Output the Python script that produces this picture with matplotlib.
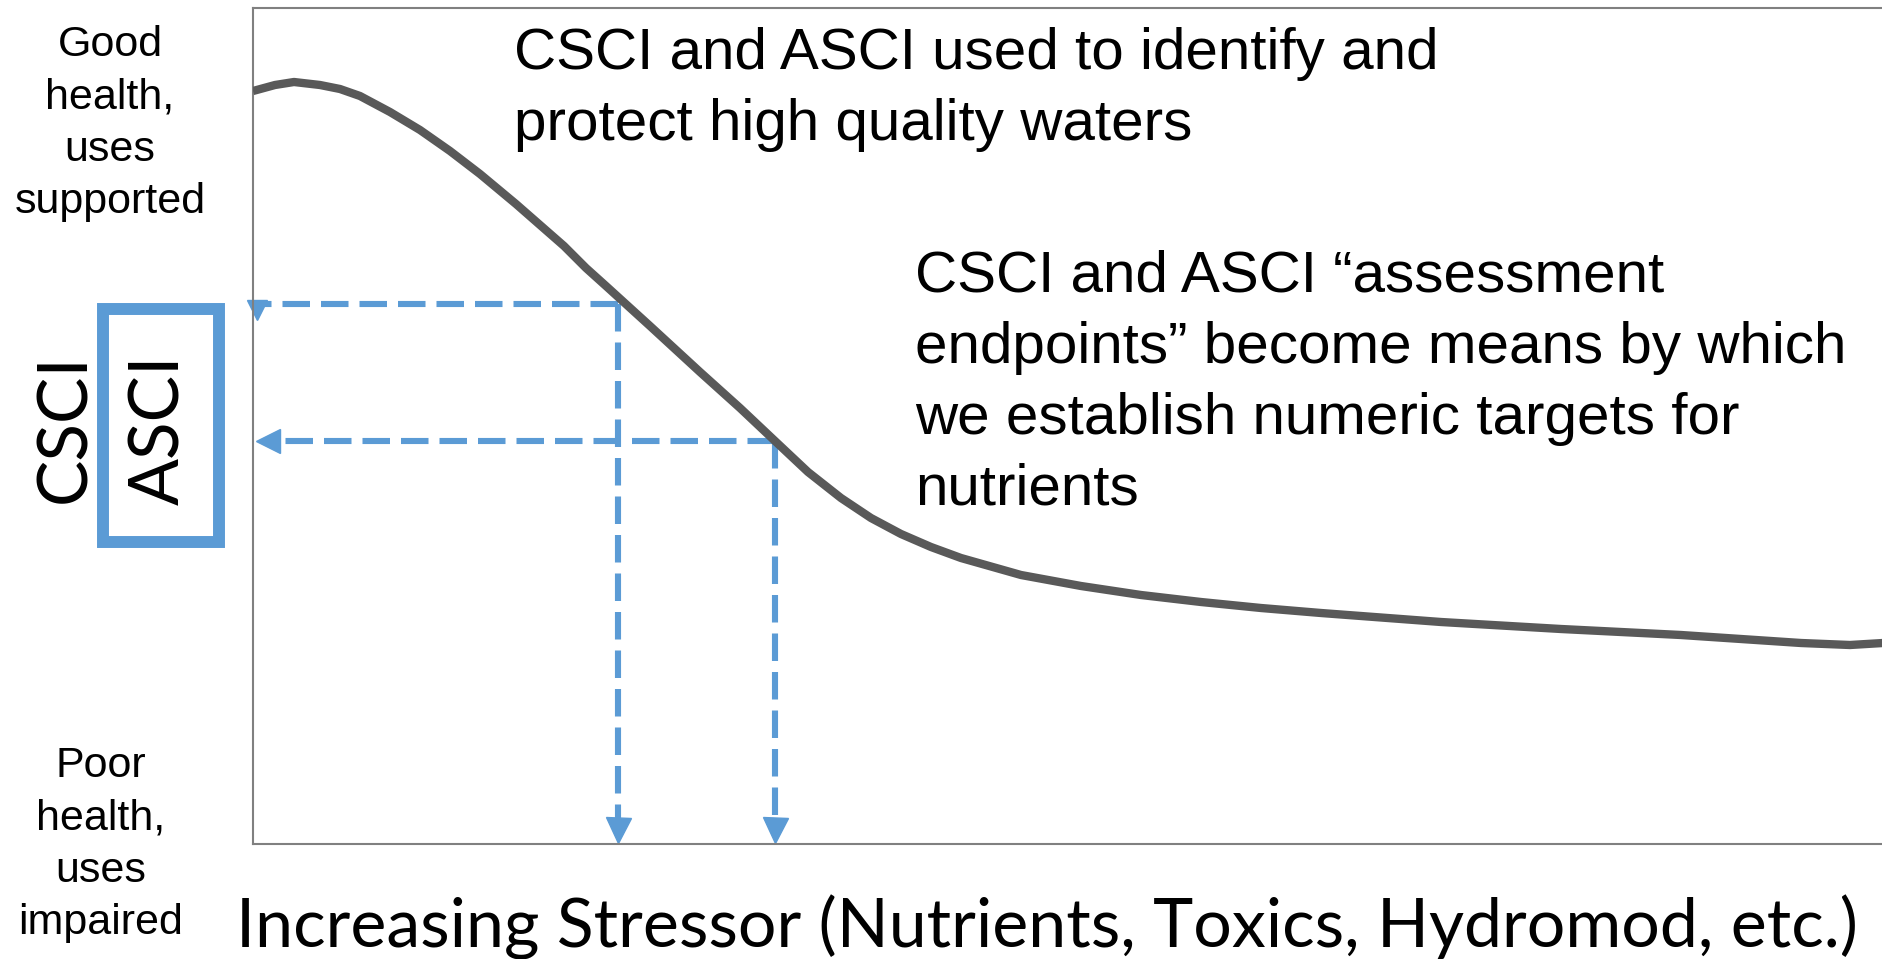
import matplotlib.pyplot as plt

# stressor-response curve (pixel-like units)
stress_x = [253, 275, 294, 320, 340, 360, 390, 420, 450, 480, 516, 540, 564, 586,
            606, 628, 650, 675, 700, 740, 775, 808, 841, 871, 901, 931, 961,
            1021, 1081, 1141, 1201, 1261, 1321, 1441, 1561, 1681, 1801, 1850, 1883]
health_y = [91, 85, 82, 85, 89, 96, 112, 130, 151, 174, 204, 225, 246, 268,
            286, 306, 326, 349, 372, 408, 441, 472, 498, 518, 534, 547, 558,
            575, 586, 595, 602, 608, 613, 622, 629, 635, 643, 645, 643]

# assessment endpoints (stressor level, index level)
endpoint_x = [618, 775]
endpoint_y = [304, 441]

W, H = 1883, 959
x0, x1, y_top, y_bot = 253, 1883, 8, 844

blue = "#5B9BD5"
grey = "#595959"

fig = plt.figure(figsize=(W / 100, H / 100), dpi=100)

# overlay for the text and the index box, figure pixels
ov = fig.add_axes([0, 0, 1, 1])
ov.set_xlim(0, W)
ov.set_ylim(H, 0)
ov.axis("off")

ax = fig.add_axes([x0 / W, (H - y_bot) / H, (x1 - x0) / W, (y_bot - y_top) / H])
ax.set_xlim(x0, x1)
ax.set_ylim(y_bot, y_top)
ax.set_xticks([])
ax.set_yticks([])
ax.patch.set_alpha(0)
for s in ["left", "top", "bottom"]:
    ax.spines[s].set_color("#808080")
    ax.spines[s].set_linewidth(1.5)
ax.spines["right"].set_visible(False)

ax.plot(stress_x, health_y, color=grey, lw=6, solid_capstyle="butt",
        solid_joinstyle="round", zorder=3)

dash = (0, (4.5, 1.8))
lw_d = 4.4
# horizontal lines back to the index axis
ax.plot([endpoint_x[0], x0 + 4], [endpoint_y[0]] * 2, color=blue, lw=lw_d, ls=dash, clip_on=False)
ax.plot([endpoint_x[1], x0 + 20], [endpoint_y[1]] * 2, color=blue, lw=lw_d, ls=dash, clip_on=False)
ax.plot([x0 + 4], [endpoint_y[0] + 6], marker="v", ms=15, color=blue, clip_on=False)
ax.plot([x0 + 15], [endpoint_y[1]], marker="<", ms=17, color=blue, clip_on=False)

# vertical lines down to the stressor axis
for xe, ye in zip(endpoint_x, endpoint_y):
    ax.plot([xe, xe], [ye, y_bot - 26], color=blue, lw=lw_d, ls=dash, clip_on=False)
    ax.plot([xe], [y_bot - 14], marker="v", ms=18, color=blue, clip_on=False)

# annotations
ann_font = "Liberation Sans"
ov.text(514, 27, "CSCI and ASCI used to identify and\nprotect high quality waters",
        fontsize=42, family=ann_font, ha="left", va="top", linespacing=1.4)
ov.text(915, 250, "CSCI and ASCI \u201cassessment\nendpoints\u201d become means by which\n"
        "we establish numeric targets for\nnutrients",
        fontsize=42, family=ann_font, ha="left", va="top", linespacing=1.4)

# y-axis end labels
ov.text(110, 25, "Good\nhealth,\nuses\nsupported", fontsize=31, family=ann_font,
        ha="center", va="top", multialignment="center", linespacing=1.4)
ov.text(101, 746, "Poor\nhealth,\nuses\nimpaired", fontsize=31, family=ann_font,
        ha="center", va="top", multialignment="center", linespacing=1.4)

# index names
gfont = "Lato"
ov.text(66, 428, "CSCI", fontsize=50, family=gfont, rotation=90, ha="center", va="center")
ov.text(160, 430, "ASCI", fontsize=50, family=gfont, rotation=90, ha="center", va="center")
ov.add_patch(plt.Rectangle((103, 309), 116, 233, fill=False, ec=blue, lw=8.6))

ov.text(1047, 948, "Increasing Stressor (Nutrients, Toxics, Hydromod, etc.)",
        fontsize=49, family=gfont, ha="center", va="baseline")

fig.savefig("out.png", dpi=100)
